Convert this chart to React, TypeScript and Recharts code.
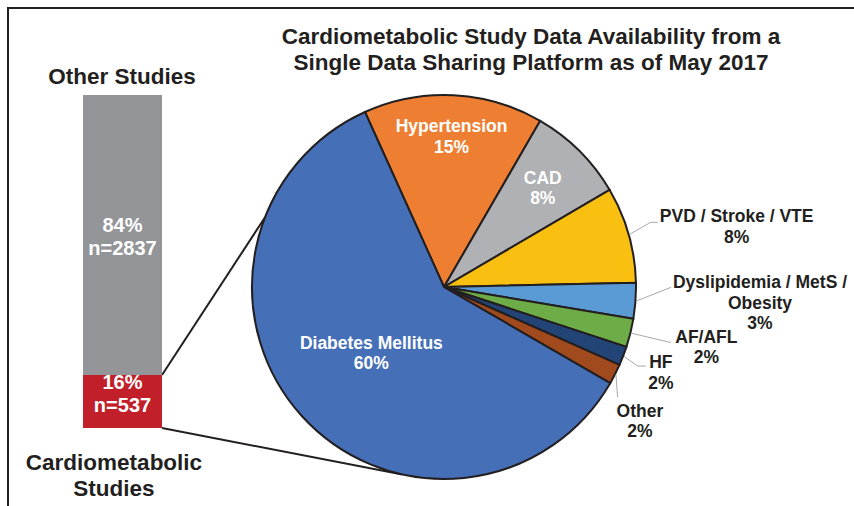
import React from "react";
import { PieChart, Pie, Cell, BarChart, Bar, XAxis, YAxis, LabelList } from "recharts";

const FONT = '"Liberation Sans", Arial, Helvetica, sans-serif';
const INK = "#231f20";

// left stacked bar: study counts
const studyGroups = ["Cardiometabolic Studies", "Other Studies"];
const studyCounts = [537, 2837];
const studyColors = ["#c1202a", "#939598"];

// pie: share of cardiometabolic studies (%)
const diseases = [
  "Hypertension",
  "CAD",
  "PVD / Stroke / VTE",
  "Dyslipidemia / MetS / Obesity",
  "AF/AFL",
  "HF",
  "Other",
  "Diabetes Mellitus",
];
const shares = [15.1, 8.2, 8.1, 3.0, 2.4, 1.6, 1.7, 59.9];
const labelLines = [
  ["Hypertension"],
  ["CAD"],
  ["PVD / Stroke / VTE"],
  ["Dyslipidemia / MetS /", "Obesity"],
  ["AF/AFL"],
  ["HF"],
  ["Other"],
  ["Diabetes Mellitus"],
];
const pieColors = ["#ee7f32", "#b0b1b4", "#f9c012", "#5a9bd5", "#6dac47", "#234477", "#a14a1d", "#4570b8"];

const titleLines = [
  "Cardiometabolic Study Data Availability from a",
  "Single Data Sharing Platform as of May 2017",
];

// layout (not data)
const BAR = { left: 83, top: 95, width: 79, height: 333 };
const PIE = { cx: 444, cy: 287, r: 192, start: 114.3 };
const LH = 20.5;

type Lay = { inside?: number; text?: [number, number]; line?: [number, number][] };
const labelLayout: Lay[] = [
  { inside: 0.786 },
  { inside: 0.73 },
  { text: [107, -18.6], line: [[21, -12], [28, -12]] },
  { text: [123.5, -19.2], line: [[34.5, -13.6]] },
  { text: [75, 3], line: [[39.6, 9.3]] },
  { text: [36.8, 5.7], line: [[13.5, 9.7], [21.8, 9.7]] },
  { text: [24, 36], line: [[1.6, 22.5]] },
  { inside: 0.51 },
];

const pieData = diseases.map((name, i) => ({ name, value: shares[i] }));
const total = studyCounts.reduce((a, b) => a + b, 0);
const barData = [{ name: "All", cardio: studyCounts[0], other: studyCounts[1] }];

const renderPieLabel = (props: any) => {
  const { cx, cy, midAngle, outerRadius, index, percent } = props;
  const lay = labelLayout[index];
  const rad = (-midAngle * Math.PI) / 180;
  const lines = [...labelLines[index], `${Math.round(percent * 100)}%`];
  const textProps = {
    fontFamily: FONT,
    fontWeight: 700,
    fontSize: 17.5,
    textAnchor: "middle" as const,
  };
  if (lay.inside) {
    const r = outerRadius * lay.inside;
    const x = cx + r * Math.cos(rad);
    const y = cy + r * Math.sin(rad) - ((lines.length - 1) * LH) / 2;
    return (
      <g key={`l-${index}`}>
        {lines.map((t, i) => (
          <text key={i} x={x} y={y + i * LH + 6.3} fill="#ffffff" {...textProps}>
            {t}
          </text>
        ))}
      </g>
    );
  }
  const ex = cx + (outerRadius + 1) * Math.cos(rad);
  const ey = cy + (outerRadius + 1) * Math.sin(rad);
  const pts = [[ex, ey], ...(lay.line || []).map(([dx, dy]) => [ex + dx, ey + dy])];
  const tx = ex + (lay.text ? lay.text[0] : 0);
  const ty = ey + (lay.text ? lay.text[1] : 0);
  return (
    <g key={`l-${index}`}>
      <polyline points={pts.map((p) => p.join(",")).join(" ")} fill="none" stroke="#a7a9ac" strokeWidth={1} />
      {lines.map((t, i) => (
        <text key={i} x={tx} y={ty + i * LH + 6.3} fill={INK} {...textProps}>
          {t}
        </text>
      ))}
    </g>
  );
};

const barLabel = (shiftY: number) => (props: any) => {
  const { x, y, width, height, value } = props;
  const cxp = x + width / 2;
  const mid = y + height / 2 + shiftY;
  return (
    <g>
      <text x={cxp} y={mid - 11.5 + 7.2} fill="#ffffff" fontFamily={FONT} fontWeight={700} fontSize={20} textAnchor="middle">
        {`${Math.round((value / total) * 100)}%`}
      </text>
      <text x={cxp} y={mid + 11.5 + 7.2} fill="#ffffff" fontFamily={FONT} fontWeight={700} fontSize={20} textAnchor="middle">
        {`n=${value}`}
      </text>
    </g>
  );
};

const App = () => {
  const boundaryY = BAR.top + (BAR.height * studyCounts[1]) / total;
  const rightX = BAR.left + BAR.width;
  const onCircle = (deg: number) => [
    PIE.cx + PIE.r * Math.cos((deg * Math.PI) / 180),
    PIE.cy - PIE.r * Math.sin((deg * Math.PI) / 180),
  ];
  const up = onCircle(158.6);
  const down = onCircle(-102.5);

  return (
    <div style={{ position: "absolute", left: 0, top: 0, width: 854, height: 506, background: "#fff", overflow: "hidden" }}>
      <svg width={854} height={506} style={{ position: "absolute", left: 0, top: 0 }}>
        <polyline points="8,506 8,8 854,8" fill="none" stroke={INK} strokeWidth={2} />
        {titleLines.map((t, i) => (
          <text key={i} x={531} y={44 + i * 26} textAnchor="middle" fontFamily={FONT} fontWeight={700} fontSize={22.5} fill={INK}>
            {t}
          </text>
        ))}
        <text x={122} y={84} textAnchor="middle" fontFamily={FONT} fontWeight={700} fontSize={22.5} fill={INK}>
          {studyGroups[1]}
        </text>
        {["Cardiometabolic", "Studies"].map((t, i) => (
          <text key={t} x={114} y={470 + i * 26} textAnchor="middle" fontFamily={FONT} fontWeight={700} fontSize={22.5} fill={INK}>
            {t}
          </text>
        ))}
        <line x1={rightX} y1={boundaryY} x2={up[0]} y2={up[1]} stroke={INK} strokeWidth={2} />
        <line x1={rightX} y1={BAR.top + BAR.height} x2={down[0]} y2={down[1]} stroke={INK} strokeWidth={2} />
      </svg>

      <div style={{ position: "absolute", left: BAR.left, top: BAR.top }}>
        <BarChart width={BAR.width} height={BAR.height} data={barData} margin={{ top: 0, right: 0, bottom: 0, left: 0 }} barCategoryGap={0}>
          <XAxis dataKey="name" hide />
          <YAxis hide domain={[0, total]} />
          <Bar dataKey="cardio" stackId="s" fill={studyColors[0]} isAnimationActive={false}>
            <LabelList dataKey="cardio" content={barLabel(-8)} />
          </Bar>
          <Bar dataKey="other" stackId="s" fill={studyColors[1]} isAnimationActive={false}>
            <LabelList dataKey="other" content={barLabel(1.5)} />
          </Bar>
        </BarChart>
      </div>

      <div style={{ position: "absolute", left: 0, top: 0 }}>
        <PieChart width={854} height={506} margin={{ top: 0, right: 0, bottom: 0, left: 0 }}>
          <Pie
            data={pieData}
            dataKey="value"
            nameKey="name"
            cx={PIE.cx}
            cy={PIE.cy}
            outerRadius={PIE.r}
            startAngle={PIE.start}
            endAngle={PIE.start - 360}
            stroke={INK}
            strokeWidth={2}
            label={renderPieLabel}
            labelLine={false}
            isAnimationActive={false}
          >
            {pieData.map((d, i) => (
              <Cell key={d.name} fill={pieColors[i]} />
            ))}
          </Pie>
        </PieChart>
      </div>
    </div>
  );
};

export default App;
